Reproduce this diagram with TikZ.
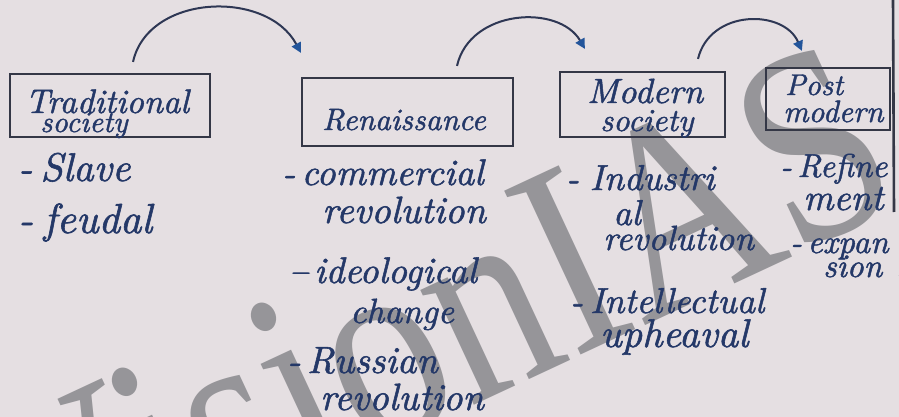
\documentclass[tikz,border=0pt]{standalone}
\usepackage{fontspec}
\newfontfamily\wmfont{Liberation Serif}
\newfontfamily\handfam{lmroman10-italic}[Extension=.otf, FakeBold=1.4]
\usetikzlibrary{arrows.meta,calc}
\definecolor{paper}{RGB}{229,223,226}
\definecolor{ink}{RGB}{36,56,104}
\definecolor{frame}{RGB}{52,55,70}
\definecolor{tipblue}{RGB}{35,85,155}
\definecolor{wm}{RGB}{150,149,153}
\newcommand\hf[1]{\handfam\fontsize{#1}{#1}\selectfont}
\begin{document}
\begin{tikzpicture}[x=1pt,y=-1pt,
  box/.style={draw=frame, line width=2.2pt, inner sep=0pt},
  hand/.style={font=\hf{#1}, text=ink, inner sep=0pt, anchor=base west},
  hand/.default=36,
  jump/.style={draw=frame!60!ink, line width=2pt,
    -{Triangle[length=10pt,width=10pt,color=tipblue]}},
  ]
% paper
\fill[paper] (0,0) rectangle (899,417);
\useasboundingbox (0,0) rectangle (899,417);

% watermark, under the notes
\node[font=\wmfont\fontsize{230}{230}\selectfont, text=wm,
      rotate=25, yscale=1.2, anchor=base west, inner sep=0pt] (wmark) at (30,612) {VisionIAS};

% page edge on the right
\draw[frame, line width=2.6pt] (893,0) -- (894,212);

% the four stages
\node[box, minimum width=200pt, minimum height=63pt] (trad) at (110,105.5) {};
\node[box, minimum width=211pt, minimum height=68pt] (ren)  at (407.5,112) {};
\node[box, minimum width=165pt, minimum height=65pt] (mod)  at (642.5,104.5) {};
\node[box, minimum width=124pt, minimum height=62pt] (post) at (828,99) {};

\node[hand=34] (tradA) at (25,113) {Traditional};
\node[hand=30] (tradB) at (40,132) {society};
\node[hand=31] (renA)  at (322,130) {Renaissance};
\node[hand=35] (modA)  at (587,103) {Modern};
\node[hand=32] (modB)  at (600,131) {society};
\node[hand=30] (postA) at (785,95) {Post};
\node[hand=31] (postB) at (783,122) {modern};

% arrows between the stages
\coordinate (a1s) at ($(trad.north)+(23,-11)$);
\coordinate (a1e) at ($(ren.north west)+(0,-24)$);
\coordinate (a2s) at ($(ren.north)+(49.5,-11)$);
\coordinate (a2e) at ($(mod.north west)+(26,-22)$);
\coordinate (a3s) at ($(mod.north)+(55.5,-12)$);
\coordinate (a3e) at ($(post.north west)+(37,-16)$);
\draw[jump] (a1s) .. controls +(15,-68) and +(-34,-64) .. (a1e);
\draw[jump] (a2s) .. controls +(13,-57) and +(-26,-45) .. (a2e);
\draw[jump] (a3s) .. controls +(12,-50) and +(-18,-42) .. (a3e);

% traditional society
\node[hand=40] (t1) at (18,181) {-\hspace{0.2em}Slave};
\node[hand=42] (t2) at (18,233) {-\hspace{0.25em}feudal};

% renaissance
\node[hand=37] (r1) at (282,185) {-\,commercial};
\node[hand=38] (r2) at (322,223) {revolution};
\node[hand=37] (r3) at (289,283) {\textendash\,ideological};
\node[hand=35] (r4) at (350,323) {change};
\node[hand=38] (r5) at (287,373) {-\,Russian};
\node[hand=38] (r6) at (320,410) {revolution};

% modern society
\node[hand=36] (m1) at (566,190) {-\hspace{0.3em}Industri};
\node[hand=36] (m2) at (613,225) {al};
\node[hand=35] (m3) at (603,250) {revolution};
\node[hand=36] (m4) at (570,313) {-\hspace{0.2em}Intellectual};
\node[hand=40] (m5) at (600,347) {upheaval};

% post modern
\node[hand=33] (p1) at (780,177) {-\,Refine};
\node[hand=37] (p2) at (803,210) {ment};
\node[hand=33] (p3) at (790,253) {-\,expan};
\node[hand=33] (p4) at (823,277) {sion\hspace{0.4em}.};
\end{tikzpicture}
\end{document}
